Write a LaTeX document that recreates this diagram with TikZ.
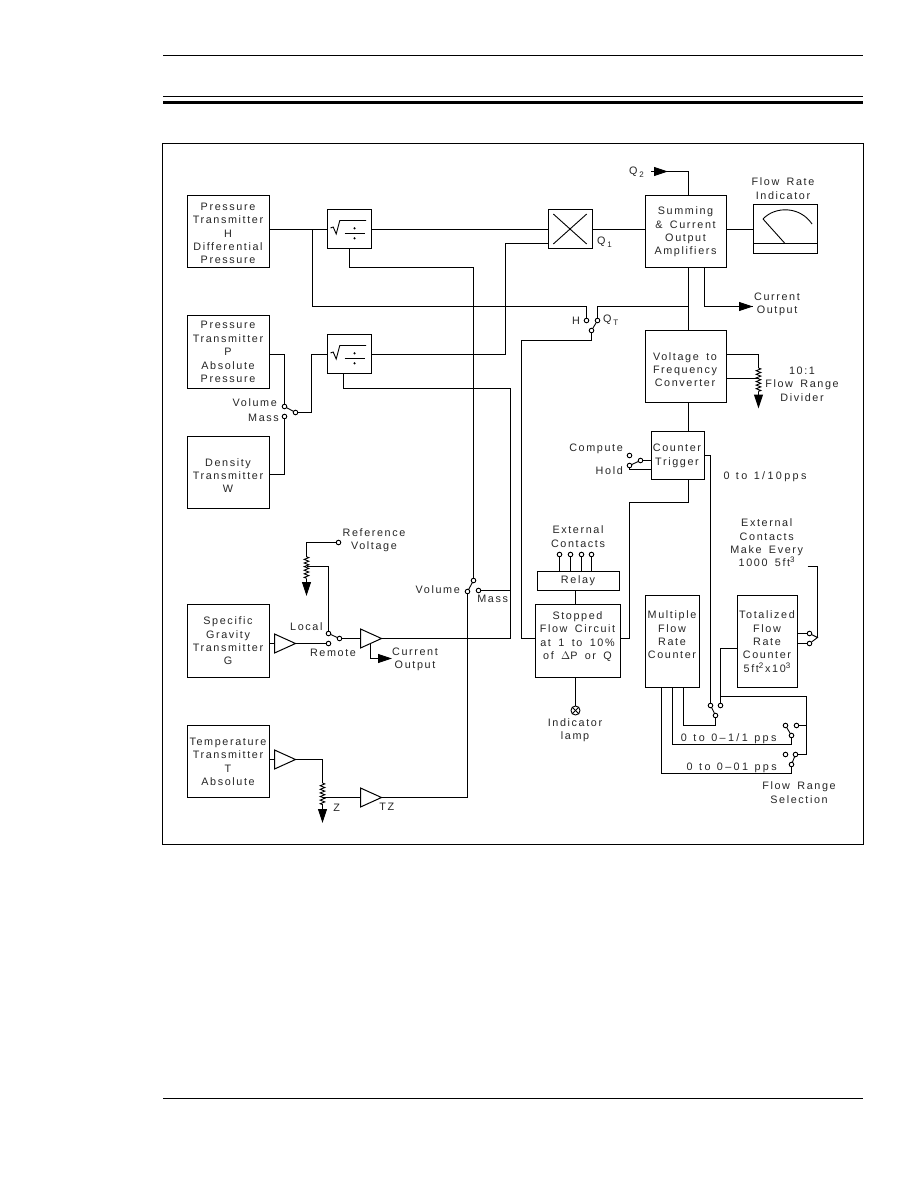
\documentclass[tikz,border=0pt]{standalone}
\usepackage{fontspec}
\setmainfont[LetterSpace=15,WordSpace=1.6]{Liberation Sans}
\newfontfamily\widefigures[LetterSpace=22,WordSpace=1.2]{Liberation Sans}
\usetikzlibrary{arrows.meta,decorations.pathmorphing}
\newcommand{\lowidx}[1]{\,\raisebox{-3pt}{\footnotesize #1}}
\newcommand{\highidx}[1]{\raisebox{4pt}{\footnotesize #1}}
\tikzset{
  wire/.style={line width=1pt,line join=miter},
  fine/.style={line width=0.9pt},
  unit/.style={draw,line width=1pt,inner sep=0pt,rectangle},
  contact/.style={draw,circle,line width=0.9pt,inner sep=0pt,minimum size=4.6pt,fill=white},
  txt/.style={inner sep=0pt,align=center,text=black!85,font=\fontsize{10.8}{13.35}\selectfont},
  figtxt/.style={txt,font=\fontsize{10.8}{13.35}\widefigures},
  tipped/.style={line width=1pt,-{Triangle[length=14pt,width=9pt]}},
  resistor/.style={line width=0.9pt,decorate,decoration={zigzag,amplitude=2.3pt,segment length=3.6pt}},
  amp/.pic={\draw[wire] (0,-9.5) -- (21,0) -- (0,9.5) -- cycle;},
  rootsign/.pic={
    \draw[fine] (-19,-1) -- (-16.3,-2) -- (-13.3,5) -- (-9.7,-8.5) -- (16.7,-8.5);
    \draw[fine] (-5,4.5) -- (15.3,4.5);
    \fill (5,-0.7) circle (1.2pt);
    \fill (5,9.3) circle (1.2pt);
  }
}
\begin{document}
\begin{tikzpicture}[x=1pt,y=-1pt]
\useasboundingbox (0,0) rectangle (918,1188);
\fill[white] (0,0) rectangle (918,1188);

% page rules and the outer frame
\coordinate (ruleAl) at (163,55.5);   \coordinate (ruleAr) at (863,55.5);
\coordinate (ruleBl) at (163,96.5);   \coordinate (ruleBr) at (863,96.5);
\coordinate (ruleCl) at (163,102.5);  \coordinate (ruleCr) at (863,102.5);
\coordinate (ruleDl) at (163,1098.5); \coordinate (ruleDr) at (863,1098.5);
\draw[line width=1pt] (ruleAl) -- (ruleAr);
\draw[line width=1pt] (ruleBl) -- (ruleBr);
\draw[line width=2.4pt] (ruleCl) -- (ruleCr);
\draw[line width=1pt] (ruleDl) -- (ruleDr);
\node[unit,minimum width=701pt,minimum height=701pt] (frame) at (513,494) {};

% main blocks
\node[unit,minimum width=82pt,minimum height=72pt] (H) at (228.5,231.5) {};
\node[unit,minimum width=82pt,minimum height=73pt] (P) at (228.5,352) {};
\node[unit,minimum width=82pt,minimum height=72pt] (W) at (228.5,472.5) {};
\node[unit,minimum width=82pt,minimum height=73pt] (G) at (228.5,641) {};
\node[unit,minimum width=82pt,minimum height=72pt] (T) at (228.5,761.5) {};
\node[unit,minimum width=44pt,minimum height=39pt] (rootA) at (349.5,229) {};
\node[unit,minimum width=44pt,minimum height=39pt] (rootB) at (349.5,354) {};
\node[unit,minimum width=44pt,minimum height=39pt] (mult) at (570.5,229) {};
\node[unit,minimum width=81pt,minimum height=72pt] (sum) at (686,231.5) {};
\node[unit,minimum width=64pt,minimum height=49pt] (meter) at (785.5,229) {};
\node[unit,minimum width=81pt,minimum height=72pt] (vfc) at (686,366.5) {};
\node[unit,minimum width=53pt,minimum height=48pt] (trig) at (678,455.5) {};
\node[unit,minimum width=82pt,minimum height=19pt] (relay) at (578.5,581) {};
\node[unit,minimum width=85pt,minimum height=73pt] (stop) at (578,641) {};
\node[unit,minimum width=54pt,minimum height=92pt] (multi) at (672.5,641.5) {};
\node[unit,minimum width=60pt,minimum height=92pt] (total) at (767.5,641.5) {};

% switch contacts
\node[contact] (cH) at (586.5,320.5) {};
\node[contact] (cQa) at (597.5,320.5) {};
\node[contact] (cQb) at (591.5,330.5) {};
\node[contact] (cVol) at (284.5,406.5) {};
\node[contact] (cMas) at (284.5,416.5) {};
\node[contact] (cSw) at (295.5,412.5) {};
\node[contact] (cComp) at (629.5,455.5) {};
\node[contact] (cHold) at (629.5,465.5) {};
\node[contact] (cCT) at (640.5,460.5) {};
\node[contact] (ea) at (559.5,554.5) {};
\node[contact] (eb) at (570.5,554.5) {};
\node[contact] (ec) at (581.5,554.5) {};
\node[contact] (ed) at (591.5,554.5) {};
\node[contact] (cLoc) at (328.5,633.5) {};
\node[contact] (cRem) at (328.5,643.5) {};
\node[contact] (cLS) at (339.5,638.5) {};
\node[contact] (cRef) at (338.5,542.5) {};
\node[contact] (cV) at (467.5,591.5) {};
\node[contact] (cVM) at (473.5,580.5) {};
\node[contact] (cM) at (478.5,590.5) {};
\node[contact] (sAa) at (710.5,705.5) {};
\node[contact] (sAb) at (720.5,705.5) {};
\node[contact] (sAc) at (715.5,715.5) {};
\node[contact] (sBa) at (785.5,725.5) {};
\node[contact] (sBb) at (796.5,725.5) {};
\node[contact] (sBc) at (791.5,735.5) {};
\node[contact] (sCa) at (785.5,754.5) {};
\node[contact] (sCb) at (795.5,754.5) {};
\node[contact] (sCc) at (791.5,764.5) {};
\node[contact] (tA) at (809.5,633.5) {};
\node[contact] (tB) at (809.5,643.5) {};
\node[draw,circle,line width=0.9pt,inner sep=0pt,minimum size=9pt] (lamp) at (575.5,710.5) {};
\draw[fine] (lamp.45) -- (lamp.225);
\draw[fine] (lamp.135) -- (lamp.315);

% amplifiers
\coordinate (ampGi) at (274.5,643.5); \coordinate (ampGo) at (295.5,643.5);
\coordinate (ampLi) at (360.5,638.5); \coordinate (ampLo) at (381.5,638.5);
\coordinate (ampTi) at (274.5,759.5); \coordinate (ampTo) at (295.5,759.5);
\coordinate (ampZi) at (360.5,797.5); \coordinate (ampZo) at (381.5,797.5);
\pic at (ampGi) {amp};
\pic at (ampLi) {amp};
\pic at (ampTi) {amp};
\pic at (ampZi) {amp};

% block symbols
\pic at (rootA.center) {rootsign};
\pic at (rootB.center) {rootsign};
\coordinate (xa) at (553.3,214); \coordinate (xb) at (586.7,244);
\coordinate (xc) at (553.3,244); \coordinate (xd) at (586.7,214);
\draw[fine] (xa) -- (xb);
\draw[fine] (xc) -- (xd);
\coordinate (dialA) at (763,219); \coordinate (dialB) at (812,224);
\coordinate (dialC) at (775,206); \coordinate (dialD) at (800,206);
\coordinate (needle) at (785,243.5);
\coordinate (scaleL) at (753.5,243.5); \coordinate (scaleR) at (817.5,243.5);
\draw[fine] (dialA) .. controls (dialC) and (dialD) .. (dialB);
\draw[fine] (dialA) -- (needle);
\draw[wire] (scaleL) -- (scaleR);

% upper signal chain
\coordinate (rowA) at (0,229.5);
\coordinate (rowB) at (0,354.5);
\coordinate (jH) at (312.5,229.5);
\coordinate (kH) at (586.5,306.5);
\draw[wire] (H.east |- rowA) -- (rootA.west |- rowA);
\draw[wire] (rootA.east |- rowA) -- (mult.west |- rowA);
\draw[wire] (mult.east |- rowA) -- (sum.west |- rowA);
\draw[wire] (sum.east |- rowA) -- (meter.west |- rowA);
\draw[wire] (jH) |- (kH) -- (cH);
\coordinate (mIn) at (548.5,243.5); \coordinate (mTurn) at (505.5,243.5);
\draw[wire] (mIn) -- (mTurn) |- (rootB.east |- rowB);
\coordinate (pJ) at (284.5,354.5);
\draw[wire] (P.east |- pJ) -- (pJ) -- (cVol);
\coordinate (wJ) at (284.5,474.5);
\draw[wire] (W.east |- wJ) -- (wJ) -- (cMas);
\draw[fine] (cVol) -- (cSw);
\coordinate (swT) at (311.5,412.5); \coordinate (swU) at (311.5,354.5);
\draw[wire] (cSw) -- (swT) -- (swU) -- (rootB.west |- rowB);

% density and gravity correction lines
\coordinate (aDn) at (349.5,267.5); \coordinate (aRt) at (473.5,267.5);
\draw[wire] (rootA.south) -- (aDn) -- (aRt) -- (cVM);
\coordinate (bUp) at (343.5,373.5); \coordinate (bDn) at (343.5,388.5);
\coordinate (bRt) at (510.5,388.5); \coordinate (bLow) at (510.5,638.5);
\draw[wire] (bUp) -- (bDn) -- (bRt) -- (bLow) -- (ampLo);
\coordinate (mJ) at (510.5,590.5);
\draw[wire] (cM) -- (mJ);
\draw[fine] (cV) -- (cVM);
\coordinate (zOut) at (467.5,797.5);
\draw[wire] (ampZo) -- (zOut) -- (cV);

% quotient switch and flow outputs
\draw[fine] (cQb) -- (cQa);
\coordinate (qUp) at (597.5,306.5); \coordinate (qJ) at (688.5,306.5);
\draw[wire] (cQa) -- (qUp) -- (qJ);
\coordinate (qbR) at (591.5,340.5); \coordinate (qbL) at (521.5,340.5);
\coordinate (qbD) at (521.5,638.5);
\draw[wire] (cQb) -- (qbR) -- (qbL) -- (qbD) -- (stop.west |- qbD);
\coordinate (sT) at (688.5,195.5); \coordinate (sB) at (688.5,267.5);
\coordinate (vT) at (688.5,330.5); \coordinate (vB) at (688.5,402.5);
\coordinate (trT) at (688.5,431.5); \coordinate (trB) at (688.5,479.5);
\coordinate (qTop) at (688.5,171.5); \coordinate (qEnd) at (651,171.5);
\coordinate (qTail) at (653,171.5); \coordinate (qTip) at (668,171.5);
\draw[wire] (sT) -- (qTop) -- (qEnd);
\draw[tipped] (qTail) -- (qTip);
\draw[wire] (sB) -- (vT);
\draw[wire] (vB) -- (trT);
\coordinate (coA) at (704.5,267.5); \coordinate (coB) at (704.5,306.5);
\coordinate (coTip) at (753,306.5);
\draw[wire] (coA) -- (coB) -- (coTip);
\draw[tipped] (coB) -- (coTip);

% flow range divider
\coordinate (dvA) at (758.5,354.5); \coordinate (dvB) at (758.5,368);
\coordinate (dvC) at (758.5,391.7); \coordinate (dvTip) at (758.5,408.5);
\coordinate (dvT) at (758.5,378.5);
\draw[wire] (vfc.east |- dvA) -- (dvA) -- (dvB);
\draw[wire] (vfc.east |- dvT) -- (dvT);
\draw[resistor] (dvB) -- (dvC);
\draw[tipped] (dvC) -- (dvTip);

% counter trigger
\draw[fine] (cHold) -- (cCT);
\draw[wire] (cCT) -- (trig.west |- cCT);
\coordinate (hA) at (629.5,469.5);
\draw[wire] (cHold) -- (hA) -- (trig.west |- hA);
\coordinate (tbJ) at (688.5,502.5); \coordinate (tbL) at (629.5,502.5);
\coordinate (tbD) at (629.5,638.5);
\draw[wire] (trB) -- (tbJ) -- (tbL) -- (tbD) -- (stop.east |- tbD);
\coordinate (toR) at (710.5,455.5); \coordinate (toD) at (710.5,696.5);
\draw[wire] (trig.east |- toR) -- (toR) -- (toD) -- (sAa);

% relay and stopped flow circuit
\draw[wire] (ea) -- (relay.north -| ea);
\draw[wire] (eb) -- (relay.north -| eb);
\draw[wire] (ec) -- (relay.north -| ec);
\draw[wire] (ed) -- (relay.north -| ed);
\coordinate (rlB) at (575.5,590.5); \coordinate (stT) at (575.5,604.5);
\coordinate (stB) at (575.5,677.5);
\draw[wire] (rlB) -- (stT);
\draw[wire] (stB) -- (lamp);

% reference voltage and gravity amplifier
\coordinate (rfL) at (306.5,542.5); \coordinate (rfT) at (306.5,556.7);
\coordinate (rfB) at (306.5,578.5); \coordinate (rfTip) at (306.5,596);
\coordinate (rfJ) at (306.5,566.5); \coordinate (rfR) at (328.5,566.5);
\draw[wire] (cRef) -- (rfL) -- (rfT);
\draw[resistor] (rfT) -- (rfB);
\draw[tipped] (rfB) -- (rfTip);
\draw[wire] (rfJ) -- (rfR) -- (cLoc);
\draw[wire] (G.east |- ampGi) -- (ampGi);
\draw[wire] (ampGo) -- (cRem);
\draw[fine] (cLoc) -- (cLS);
\draw[wire] (cLS) -- (ampLi);
\coordinate (caT) at (370.5,643.5); \coordinate (caB) at (370.5,658.5);
\coordinate (caTail) at (379,658.5); \coordinate (caTip) at (392,658.5);
\draw[wire] (caT) -- (caB) -- (caTail);
\draw[tipped] (caTail) -- (caTip);

% temperature chain
\coordinate (tmR) at (322.5,759.5); \coordinate (tmT) at (322.5,783);
\coordinate (tmB) at (322.5,805); \coordinate (tmTip) at (322.5,823);
\coordinate (tmJ) at (322.5,797.5);
\draw[wire] (T.east |- ampTi) -- (ampTi);
\draw[wire] (ampTo) -- (tmR) -- (tmT);
\draw[resistor] (tmT) -- (tmB);
\draw[tipped] (tmB) -- (tmTip);
\draw[wire] (tmJ) -- (ampZi);

% flow range selection wiring
\draw[fine] (sAa) -- (sAc);
\draw[fine] (sBa) -- (sBc);
\draw[fine] (sCc) -- (sCb);
\coordinate (fA) at (683.5,687.5); \coordinate (fAc) at (683.5,725.5);
\coordinate (fAd) at (715.5,725.5);
\draw[wire] (fA) -- (fAc) -- (fAd) -- (sAc);
\coordinate (fB) at (672.5,687.5); \coordinate (fBc) at (672.5,744.5);
\coordinate (fBd) at (791.5,744.5);
\draw[wire] (fB) -- (fBc) -- (fBd) -- (sBc);
\coordinate (fC) at (661.5,687.5); \coordinate (fCc) at (661.5,773.5);
\coordinate (fCd) at (791.5,773.5);
\draw[wire] (fC) -- (fCc) -- (fCd) -- (sCc);
\coordinate (totL) at (720.5,648.5);
\draw[wire] (total.west |- totL) -- (totL) -- (sAb);
\coordinate (busT) at (720.5,696.5); \coordinate (busR) at (806.5,696.5);
\coordinate (busB) at (806.5,754.5); \coordinate (busM) at (806.5,725.5);
\draw[wire] (busT) -- (busR) -- (busB) -- (sCb);
\draw[wire] (sBb) -- (busM);

% totalizer external contacts
\draw[wire] (total.east |- tA) -- (tA);
\draw[wire] (total.east |- tB) -- (tB);
\coordinate (exA) at (807.5,566.5); \coordinate (exB) at (817.5,566.5);
\coordinate (exC) at (817.5,637.5);
\draw[wire] (exA) -- (exB) -- (exC);
\draw[fine] (tA) -- (exC) -- (tB);

% labels
\node[txt] (lH) at (228,233.5) {Pressure\\Transmitter\\H\\Differential\\Pressure};
\node[txt] (lP) at (228,352) {Pressure\\Transmitter\\P\\Absolute\\Pressure};
\node[txt] (lW) at (228,475.5) {Density\\Transmitter\\W};
\node[txt] (lG) at (228,641) {Specific\\Gravity\\Transmitter\\G};
\node[txt] (lT) at (228,762) {Temperature\\Transmitter\\T\\Absolute};
\node[txt] (lSum) at (685.5,232) {Summing\\\& Current\\Output\\Amplifiers};
\node[txt] (lVfc) at (685,369.5) {Voltage to\\Frequency\\Converter};
\node[txt] (lTrig) at (677,456) {Counter\\Trigger};
\node[txt] (lRelay) at (578,580.5) {Relay};
\node[txt] (lStop) at (577.5,636.5) {Stopped\\Flow Circuit\\at 1 to 10\%\\of $\Delta$P or Q};
\node[txt] (lMulti) at (672,635) {Multiple\\Flow\\Rate\\Counter};
\node[txt] (lTotal) at (767,641.5) {Totalized\\Flow\\Rate\\Counter\\5ft\highidx{2}\,x10\highidx{3}};
\node[txt] (lInd) at (783,188.5) {Flow Rate\\Indicator};
\node[txt] (lCur) at (777,304.5) {Current\\Output};
\node[txt] (lDiv) at (802,384) {10:1\\Flow Range\\Divider};
\node[figtxt] (lRate) at (765,477) {0 to 1/10pps};
\node[txt] (lExtA) at (578,536.5) {External\\Contacts};
\node[txt] (lExtB) at (766.7,543) {External\\Contacts\\Make Every\\1000 5ft\highidx{3}};
\node[txt] (lLamp) at (575,730) {Indicator\\lamp};
\node[figtxt] (lSelA) at (728.7,739) {0 to 0–1/1 pps};
\node[figtxt] (lSelB) at (731.7,767.5) {0 to 0–01 pps};
\node[txt] (lSel) at (799,792.5) {Flow Range\\Selection};
\node[txt,anchor=east] (lComp) at (623,449) {Compute};
\node[txt,anchor=east] (lHold) at (623,471) {Hold};
\node[txt,anchor=west] (lQa) at (597,242.5) {Q\lowidx{1}};
\node[txt,anchor=east] (lQb) at (644,172.5) {Q\lowidx{2}};
\node[txt,anchor=east] (lHs) at (580,320.5) {H};
\node[txt,anchor=west] (lQT) at (603,320.5) {Q\lowidx{T}};
\node[txt,anchor=east] (lVolA) at (277,403) {Volume};
\node[txt,anchor=east] (lMasA) at (279,418) {Mass};
\node[txt] (lRef) at (374,540) {Reference\\Voltage};
\node[txt,anchor=east] (lLoc) at (322.7,627) {Local};
\node[txt] (lRem) at (333,653) {Remote};
\node[txt] (lCurB) at (415,659.5) {Current\\Output};
\node[txt,anchor=east] (lVolB) at (460,590) {Volume};
\node[txt] (lMasB) at (492.7,599) {Mass};
\node[txt] (lZ) at (336.7,808) {Z};
\node[txt] (lTZ) at (386.7,807) {TZ};
\end{tikzpicture}
\end{document}
